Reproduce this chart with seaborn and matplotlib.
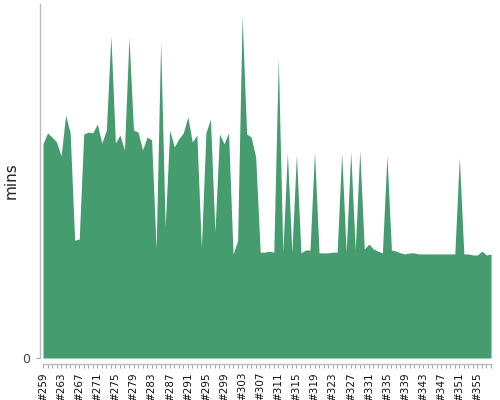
import numpy as np
import pandas as pd
import matplotlib
matplotlib.use("Agg")
import matplotlib.pyplot as plt
import seaborn as sns

builds = [f"#{n}" for n in range(259, 359)]
mins = [
    60.5, 63.6, 62.4, 61.0, 57.1, 68.6, 63.6, 33.3, 33.6, 63.3,
    63.8, 63.6, 66.1, 60.7, 64.4, 91.0, 60.7, 63.0, 58.8, 90.5,
    64.4, 63.8, 58.8, 62.4, 61.6, 30.8, 89.4, 37.0, 64.4, 59.6,
    61.9, 63.6, 68.1, 61.0, 63.0, 31.1, 63.6, 67.5, 35.6, 63.3,
    60.5, 63.6, 29.4, 33.1, 96.5, 63.3, 62.4, 56.8, 29.9, 29.9,
    30.2, 29.9, 84.6, 29.9, 58.0, 29.9, 57.5, 29.7, 30.5, 30.5,
    58.3, 29.7, 29.7, 29.7, 29.9, 29.9, 57.8, 29.9, 58.3, 30.5,
    58.6, 30.8, 32.2, 30.8, 30.2, 29.7, 57.2, 30.5, 30.2, 29.7,
    29.4, 29.7, 29.7, 29.4, 29.4, 29.4, 29.4, 29.4, 29.4, 29.4,
    29.4, 29.4, 56.6, 29.4, 29.4, 29.1, 29.1, 30.2, 29.1, 29.4,
]
label_every = 4

df = pd.DataFrame({"build": builds, "mins": mins})

sns.set_theme(style="ticks")
plt.rcParams['font.family'] = ['DejaVu Sans']

fig = plt.figure(figsize=(5, 4), dpi=100)
ax = fig.add_axes([0.086, 0.105, 0.896, 0.885])

x = np.arange(len(df))
ax.fill_between(x, 0, df["mins"], color="#459c6e", linewidth=0)
sns.lineplot(x=x, y=df["mins"], ax=ax, color="#459c6e", linewidth=0)

sns.despine(ax=ax, offset=dict(left=2, bottom=4))
for side in ("left", "bottom"):
    ax.spines[side].set_color("#bbbbbb")
    ax.spines[side].set_linewidth(1)

ax.set_xlim(0, len(df) - 1)
ax.set_ylim(0, 100)
ax.set_xticks(x)
ax.set_xticklabels([b if i % label_every == 0 else "" for i, b in enumerate(df["build"])],
                   rotation=90, fontsize=7.5, color="#111111")
ax.set_yticks([0])
ax.set_yticklabels(["0"], fontsize=9, color="#444444")
ax.set_ylabel("mins", fontsize=11, color="#222222")
ax.yaxis.set_label_coords(-0.055, 0.5)
ax.set_xlabel("")

ax.tick_params(axis="x", length=3, width=0.8, color="#aaaaaa", pad=3)
ax.tick_params(axis="y", length=3, width=0.8, color="#aaaaaa", pad=4)

fig.savefig("out.png", dpi=100)
